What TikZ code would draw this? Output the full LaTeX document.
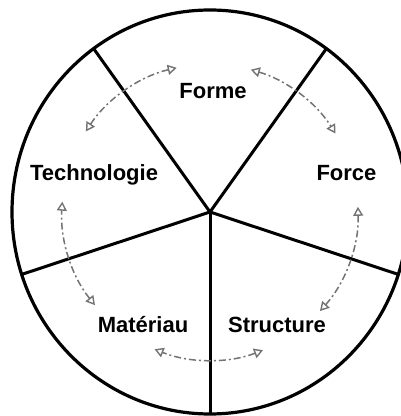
\documentclass[tikz,border=0pt]{standalone}
\usepackage{fontspec}
\setmainfont{Liberation Sans}
\usetikzlibrary{arrows.meta}
\begin{document}
\begin{tikzpicture}[x=1pt,y=1pt,
  rim/.style={line width=3.2pt, black},
  spoke/.style={line width=3pt, black},
  cyc/.style={draw=black!55, line width=1.5pt,
    dash pattern=on 7pt off 3pt on 2pt off 3pt,
    {Triangle[open,length=9pt,width=10pt,line width=1.4pt]}-{Triangle[open,length=9pt,width=10pt,line width=1.4pt]}},
  lbl/.style={font=\bfseries\fontsize{22}{26}\selectfont, anchor=base, inner sep=0pt}]
\useasboundingbox (0,0) rectangle (401,416);
\coordinate (hub) at (210,204);
\draw[rim] (hub) ellipse [x radius=198, y radius=202];
\foreach \a/\n in {126/1,54/2,-18/3,-90/4,-162/5} {
  \path (hub) ++(\a:198 and 202) coordinate (s\n);
  \draw[spoke] (hub) -- (s\n);
}
\foreach \s/\e/\n in {147/103/1, 74/32/2, 2/-42/3, -69/-112/4, -141/-184/5} {
  \path (hub) ++(\s:148) coordinate (a\n);
  \draw[cyc] (a\n) arc[start angle=\s, end angle=\e, radius=148];
}
\node[lbl] (forme) at (213,317) {Forme};
\node[lbl] (techno) at (94,235) {Technologie};
\node[lbl] (force) at (346.5,235) {Force};
\node[lbl] (mat) at (143,84) {Matériau};
\node[lbl] (struct) at (277,84) {Structure};
\end{tikzpicture}
\end{document}
